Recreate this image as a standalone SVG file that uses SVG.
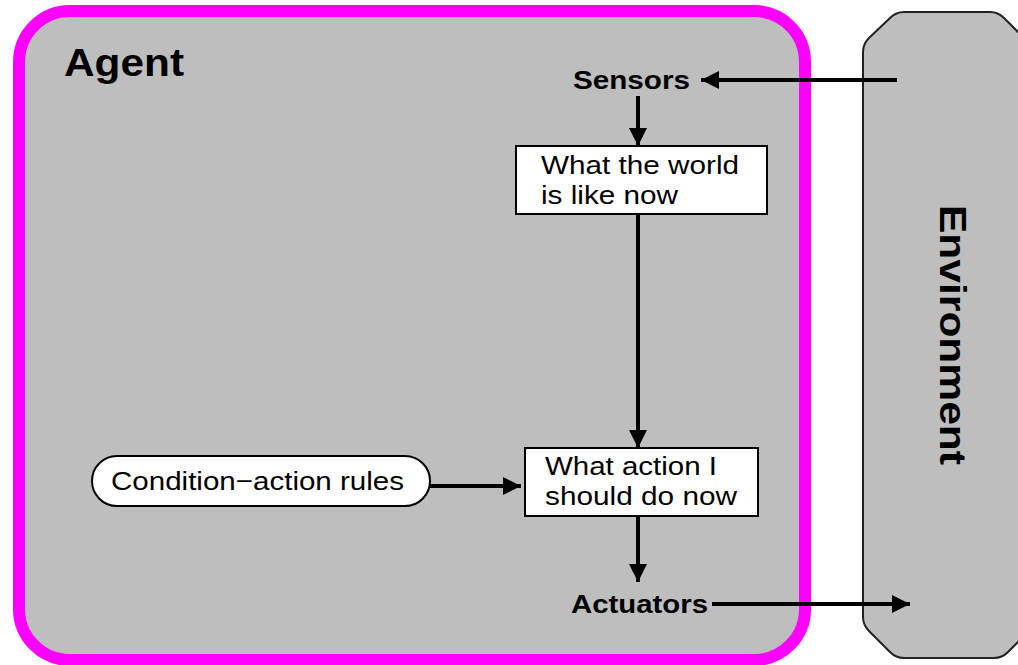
<svg xmlns="http://www.w3.org/2000/svg" width="1018" height="665" viewBox="0 0 1018 665">
  <style>
    .lbl { font-family: "Liberation Sans", Arial, sans-serif; fill: #000; }
    .bold { font-weight: bold; }
    .box { fill: #fff; stroke: #000; stroke-width: 2; }
    .wire { stroke: #000; stroke-width: 4; fill: none; marker-end: url(#head); }
  </style>
  <defs>
    <marker id="head" viewBox="0 0 10 10" refX="10" refY="5" markerUnits="userSpaceOnUse" markerWidth="34" markerHeight="18" orient="auto">
      <path d="M0,0 L10,5 L0,10 Z" fill="#000"/>
    </marker>
  </defs>
  <rect width="1018" height="665" fill="#fff"/>

  <!-- environment -->
  <g id="environment">
    <path d="M863,52 Q863,44 869,38 L890,18 Q896,12 904,12 L990,12 Q998,12 1004,18 L1040,54 L1040,620 L1008,652 Q1002,658 994,658 L904,658 Q896,658 890,652 L869,631 Q863,625 863,617 Z" fill="#bebebe" stroke="#222" stroke-width="2"/>
    <text class="lbl bold" font-size="36" transform="translate(940,335) rotate(90)" text-anchor="middle" textLength="260" lengthAdjust="spacingAndGlyphs">Environment</text>
  </g>

  <!-- agent -->
  <g id="agent">
    <rect x="19" y="11" width="786" height="649" rx="51" ry="51" fill="#bebebe" stroke="#ff00ff" stroke-width="12"/>
    <text class="lbl bold" x="64" y="76" font-size="38" textLength="120" lengthAdjust="spacingAndGlyphs">Agent</text>
  </g>

  <g id="sensors">
    <text class="lbl bold" x="573" y="89" font-size="25" textLength="117" lengthAdjust="spacingAndGlyphs">Sensors</text>
  </g>

  <g id="world-state">
    <rect class="box" x="516" y="146" width="251" height="68"/>
    <text class="lbl" x="541" y="174" font-size="26" textLength="198" lengthAdjust="spacingAndGlyphs">What the world</text>
    <text class="lbl" x="541" y="204" font-size="26" textLength="137" lengthAdjust="spacingAndGlyphs">is like now</text>
  </g>

  <g id="rules">
    <rect class="box" x="92" y="456" width="338" height="50" rx="25" ry="25"/>
    <text class="lbl" x="111" y="490" font-size="26" textLength="293" lengthAdjust="spacingAndGlyphs">Condition−action rules</text>
  </g>

  <g id="action">
    <rect class="box" x="525" y="448" width="233" height="68"/>
    <text class="lbl" x="545" y="475" font-size="26" textLength="172" lengthAdjust="spacingAndGlyphs">What action I</text>
    <text class="lbl" x="545" y="505" font-size="26" textLength="192" lengthAdjust="spacingAndGlyphs">should do now</text>
  </g>

  <g id="actuators">
    <text class="lbl bold" x="571" y="613" font-size="25" textLength="137" lengthAdjust="spacingAndGlyphs">Actuators</text>
  </g>

  <g id="connectors">
    <line class="wire" x1="897" y1="80" x2="701" y2="80"/>
    <line class="wire" x1="638" y1="96" x2="638" y2="146"/>
    <line class="wire" x1="638" y1="214" x2="638" y2="448"/>
    <line class="wire" x1="430" y1="486" x2="521" y2="486"/>
    <line class="wire" x1="638" y1="516" x2="638" y2="582"/>
    <line class="wire" x1="712" y1="604" x2="910" y2="604"/>
  </g>
</svg>
